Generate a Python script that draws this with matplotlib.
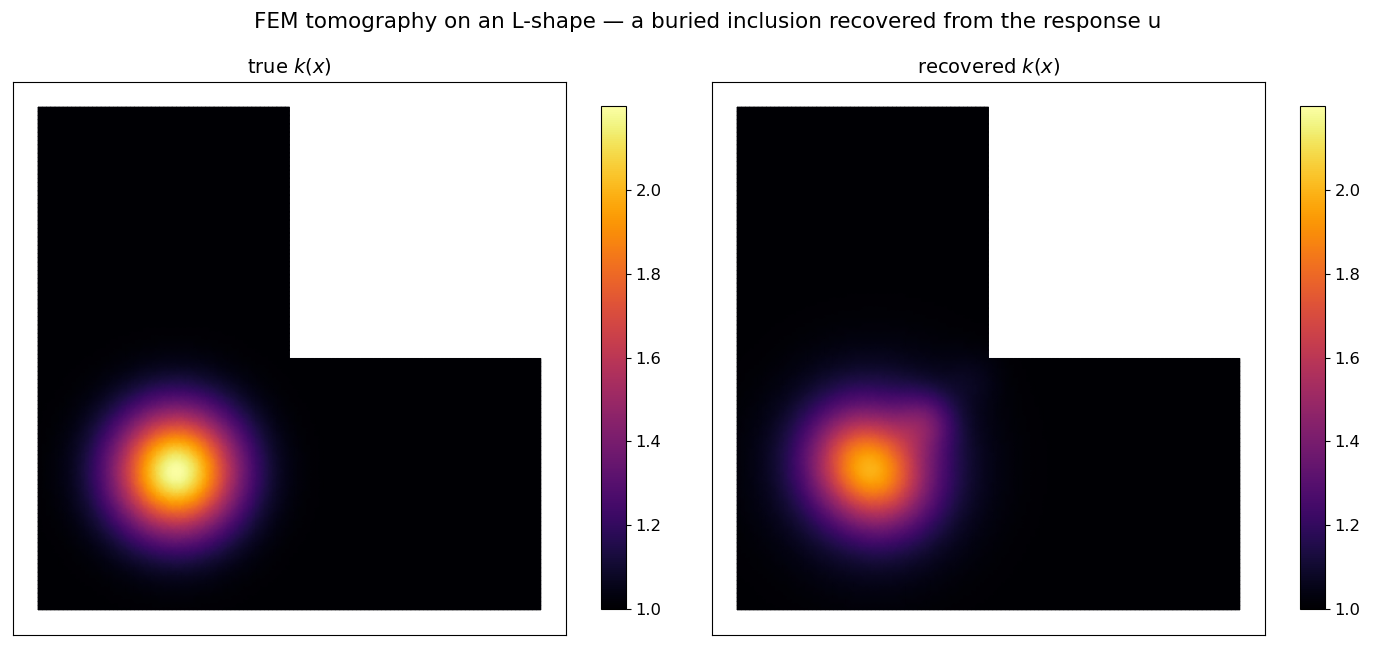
"""
FEM tomography on an L-shape: true vs recovered conductivity k(x).
"""
import numpy as np
import matplotlib
matplotlib.use("Agg")
import matplotlib.pyplot as plt
import matplotlib.tri as mtri

# L-shape domain: [-1,1]^2 with the upper-right quadrant removed
domain_lo, domain_hi = -1.0, 1.0
mesh_n = 121

# background value and colour scale
k_background = 1.0
k_vmin, k_vmax = 1.0, 2.2

# true inclusion (single bump)
true_cx = [-0.45]
true_cy = [-0.45]
true_amp = [1.2]
true_sig = [0.175]

# recovered field (two core parts, smear, side lobe, faint wisp)
rec_cx = [-0.53, -0.42, -0.45, -0.25, -0.06]
rec_cy = [-0.39, -0.49, -0.43, -0.25, -0.08]
rec_amp = [0.40, 0.40, 0.30, 0.20, 0.04]
rec_sig = [0.14, 0.14, 0.24, 0.08, 0.08]

titles = ["true $k(x)$", "recovered $k(x)$"]
cbar_ticks = [1.0, 1.2, 1.4, 1.6, 1.8, 2.0]


def build_mesh():
    g = np.linspace(domain_lo, domain_hi, mesh_n)
    X, Y = np.meshgrid(g, g)
    tri = mtri.Triangulation(X.ravel(), Y.ravel())
    cx = tri.x[tri.triangles].mean(axis=1)
    cy = tri.y[tri.triangles].mean(axis=1)
    tri.set_mask((cx > 0) & (cy > 0))
    return tri


def field(x, y, cxs, cys, amps, sigs):
    k = np.full_like(x, k_background)
    for cx, cy, a, s in zip(cxs, cys, amps, sigs):
        k += a * np.exp(-((x - cx) ** 2 + (y - cy) ** 2) / (2 * s ** 2))
    return k


tri = build_mesh()
k_true = field(tri.x, tri.y, true_cx, true_cy, true_amp, true_sig)
k_rec = field(tri.x, tri.y, rec_cx, rec_cy, rec_amp, rec_sig)

fig = plt.figure(figsize=(13.79, 6.48), dpi=100)
fig.text(0.5134, 0.966,
         "FEM tomography on an L-shape \u2014 a buried inclusion recovered from the response u",
         fontsize=15.5, ha="center", va="center")

ax_pos = [[0.0094, 0.0201, 0.401, 0.8534], [0.5163, 0.0201, 0.401, 0.8534]]
cb_pos = [[0.4358, 0.0602, 0.0181, 0.7762], [0.9427, 0.0602, 0.0181, 0.7762]]

for vals, title, ap, cp in zip([k_true, k_rec], titles, ax_pos, cb_pos):
    ax = fig.add_axes(ap)
    tp = ax.tripcolor(tri, vals, shading="gouraud", cmap="inferno",
                      vmin=k_vmin, vmax=k_vmax)
    ax.set_xlim(-1.1, 1.1)
    ax.set_ylim(-1.1, 1.1)
    ax.set_aspect("equal")
    ax.set_xticks([])
    ax.set_yticks([])
    ax.set_title(title, fontsize=14, pad=7)
    cax = fig.add_axes(cp)
    cb = fig.colorbar(tp, cax=cax)
    cb.set_ticks(cbar_ticks)
    cb.ax.tick_params(labelsize=11.8)

fig.savefig("out.png", dpi=100)
